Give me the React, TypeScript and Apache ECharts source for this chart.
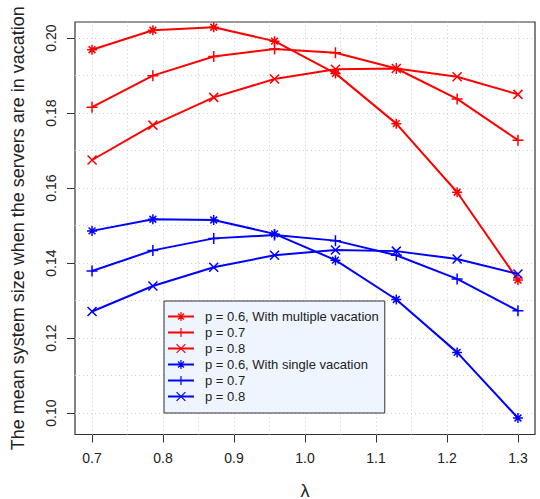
import React, { useEffect, useRef } from "react";
import * as echarts from "echarts";

const lambda = [0.7, 0.7857, 0.8714, 0.9571, 1.0429, 1.1286, 1.2143, 1.3];
const multiP06 = [0.1969, 0.2021, 0.2029, 0.1992, 0.1906, 0.1772, 0.1589, 0.1355];
const multiP07 = [0.1816, 0.19, 0.1951, 0.1971, 0.1961, 0.1919, 0.1838, 0.1728];
const multiP08 = [0.1675, 0.1768, 0.1842, 0.1891, 0.1917, 0.1919, 0.1897, 0.185];
const singleP06 = [0.1486, 0.1517, 0.1515, 0.1478, 0.1408, 0.1303, 0.1162, 0.0987];
const singleP07 = [0.1379, 0.1434, 0.1466, 0.1475, 0.146, 0.1421, 0.1358, 0.1273];
const singleP08 = [0.1271, 0.1339, 0.1389, 0.1421, 0.1435, 0.1432, 0.1411, 0.1371];

const xTicks = [0.7, 0.8, 0.9, 1.0, 1.1, 1.2, 1.3];
const yTicks = [0.1, 0.12, 0.14, 0.16, 0.18, 0.2];
const xGrid = [0.7, 0.75, 0.8, 0.85, 0.9, 0.95, 1.0, 1.05, 1.1, 1.15, 1.2, 1.25, 1.3];
const yGrid = [0.1, 0.11, 0.12, 0.13, 0.14, 0.15, 0.16, 0.17, 0.18, 0.19, 0.2];

const seriesIds = ["m06", "m07", "m08", "s06", "s07", "s08"];
const seriesLabels = [
  "p = 0.6, With multiple vacation",
  "p = 0.7",
  "p = 0.8",
  "p = 0.6, With single vacation",
  "p = 0.7",
  "p = 0.8",
];
const seriesValues = [multiP06, multiP07, multiP08, singleP06, singleP07, singleP08];

const RED = "#ff0000";
const BLUE = "#0000ff";
const seriesColors = [RED, RED, RED, BLUE, BLUE, BLUE];

const ASTERISK = "path://M5,0L5,10M0,5L10,5M1.6,1.6L8.4,8.4M8.4,1.6L1.6,8.4";
const PLUS = "path://M5,0L5,10M0,5L10,5";
const CROSS = "path://M0,0L10,10M10,0L0,10";
const seriesSymbols = [ASTERISK, PLUS, CROSS, ASTERISK, PLUS, CROSS];
const symbolSizes = [10, 11, 9, 10, 11, 9];

const FONT = "'Liberation Sans', Arial, sans-serif";

export default function App() {
  const ref = useRef<HTMLDivElement>(null);

  useEffect(() => {
    if (!ref.current) return;
    const chart = echarts.init(ref.current, undefined, { renderer: "svg" });

    const series: any[] = seriesIds.map((id, i) => ({
      id,
      name: id,
      type: "line",
      z: 3,
      data: lambda.map((x, j) => [x, seriesValues[i][j]]),
      symbol: seriesSymbols[i],
      symbolSize: symbolSizes[i],
      showAllSymbol: true,
      lineStyle: { color: seriesColors[i], width: 2 },
      itemStyle: {
        color: seriesColors[i],
        borderColor: seriesColors[i],
        borderWidth: 1.5,
      },
      emphasis: { disabled: true },
      ...(i === 0
        ? {
            markLine: {
              silent: true,
              z: 1,
              symbol: ["none", "none"],
              label: { show: false },
              emphasis: { disabled: true },
              lineStyle: { color: "#cfcfcf", type: [1, 3], width: 1 },
              data: [
                ...xGrid.map((v) => ({ xAxis: v })),
                ...yGrid.map((v) => ({ yAxis: v })),
              ],
            },
          }
        : {}),
    }));

    chart.setOption({
      animation: false,
      backgroundColor: "#ffffff",
      textStyle: { fontFamily: FONT },
      grid: {
        left: 75,
        right: 5,
        top: 22,
        bottom: 64.5,
        containLabel: false,
        outerBoundsMode: "none",
        show: true,
        borderColor: "#333",
        borderWidth: 1.2,
        backgroundColor: "#ffffff",
      },
      xAxis: {
        type: "value",
        min: 0.676,
        max: 1.324,
        name: "λ",
        nameLocation: "middle",
        nameGap: 47,
        nameTextStyle: { fontSize: 18, color: "#222", fontFamily: FONT },
        axisLine: { show: false },
        splitLine: { show: false },
        axisTick: {
          show: true,
          customValues: xTicks,
          length: 8,
          lineStyle: { color: "#333", width: 1 },
        },
        axisLabel: {
          customValues: xTicks,
          formatter: (v: number) => v.toFixed(1),
          fontSize: 14,
          color: "#222",
          margin: 16,
          fontFamily: FONT,
        },
      },
      yAxis: {
        type: "value",
        min: 0.0943,
        max: 0.2043,
        name: "The mean system size when the servers are in vacation",
        nameLocation: "middle",
        nameGap: 48,
        nameTextStyle: { fontSize: 18, color: "#222", fontFamily: FONT },
        axisLine: { show: false },
        splitLine: { show: false },
        axisTick: {
          show: true,
          customValues: yTicks,
          length: 8,
          lineStyle: { color: "#333", width: 1 },
        },
        axisLabel: {
          customValues: yTicks,
          formatter: (v: number) => v.toFixed(2),
          fontSize: 14,
          color: "#222",
          rotate: 90,
          margin: 17,
          fontFamily: FONT,
        },
      },
      legend: {
        orient: "vertical",
        left: 164,
        top: 301,
        data: seriesIds,
        formatter: (name: string) => seriesLabels[seriesIds.indexOf(name)],
        itemWidth: 26,
        itemHeight: 11,
        itemGap: 3,
        padding: [9, 6, 10, 3],
        backgroundColor: "#eef5fe",
        borderColor: "#333",
        borderWidth: 1,
        borderRadius: 0,
        selectedMode: false,
        itemStyle: { borderWidth: 1.2 },
        textStyle: {
          fontSize: 13,
          color: "#222",
          lineHeight: 13,
          padding: [0, 0, 0, 6],
          fontFamily: FONT,
        },
      },
      series,
    });

    return () => chart.dispose();
  }, []);

  return (
    <div
      ref={ref}
      style={{ position: "fixed", left: 0, top: 0, width: 540, height: 499 }}
    />
  );
}
